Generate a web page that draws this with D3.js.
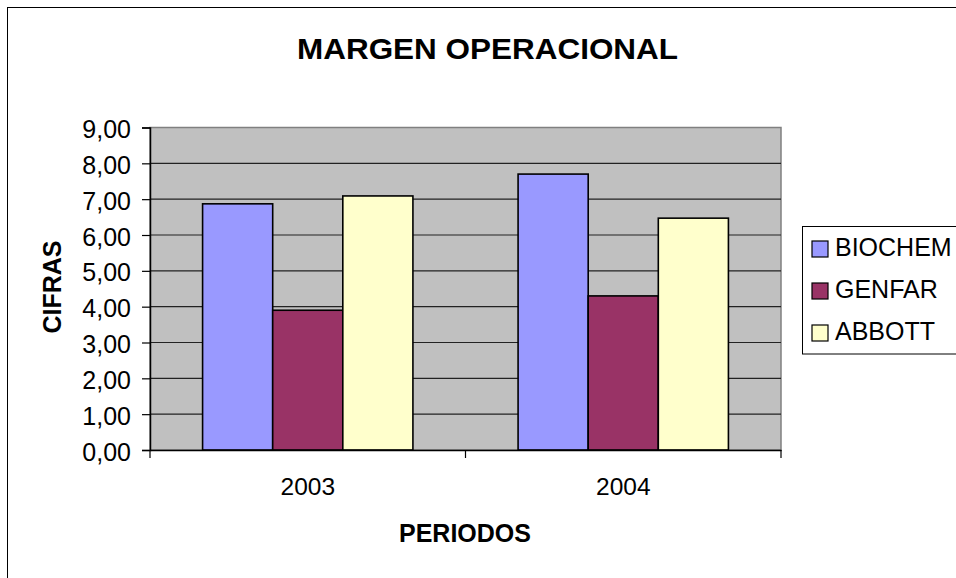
<!DOCTYPE html>
<html>
<head>
<meta charset="utf-8">
<script src="https://cdn.jsdelivr.net/npm/d3@7"></script>
<style>
  body { margin: 0; background: #fff; }
  svg { display: block; font-family: Arial, "Liberation Sans", sans-serif; }
</style>
</head>
<body>
<svg class="graphic" width="956" height="578"></svg>
<script>
// chart data
const periods = ["2003", "2004"];
const seriesNames = ["BIOCHEM", "GENFAR", "ABBOTT"];
const biochem = [6.87, 7.70];
const genfar = [3.90, 4.30];
const abbott = [7.09, 6.47];
const yTicks = [0, 1, 2, 3, 4, 5, 6, 7, 8, 9];

const colors = ["#9999FF", "#993366", "#FFFFCC"];
const seriesValues = [biochem, genfar, abbott];

const PLOT = { left: 150, right: 781, top: 127.5, bottom: 450 };

const $svg = d3.select('.graphic');

// outer chart frame (only left/top visible in the picture)
$svg.append('rect')
    .attr('x', 7.5).attr('y', 7.5)
    .attr('width', 1000).attr('height', 1000)
    .attr('fill', 'none').attr('stroke', '#000').attr('stroke-width', 1);

const x0 = d3.scaleBand()
    .domain(periods)
    .range([PLOT.left, PLOT.right])
    .padding(0);

const x1 = d3.scaleBand()
    .domain(seriesNames)
    .range([0, x0.bandwidth()])
    .paddingInner(0)
    .paddingOuter(0.75);

const y = d3.scaleLinear()
    .domain([0, 9])
    .range([PLOT.bottom, PLOT.top]);

// plot background
$svg.append('rect')
    .attr('x', PLOT.left).attr('y', PLOT.top)
    .attr('width', PLOT.right - PLOT.left)
    .attr('height', PLOT.bottom - PLOT.top)
    .attr('fill', '#C0C0C0')
    .attr('stroke', '#808080').attr('stroke-width', 1.5);

// gridlines
$svg.append('g')
    .selectAll('line')
    .data(yTicks.filter(d => d > 0 && d < 9))
    .join('line')
    .attr('x1', PLOT.left).attr('x2', PLOT.right)
    .attr('y1', d => y(d)).attr('y2', d => y(d))
    .attr('stroke', '#222').attr('stroke-width', 1.2);

// bars
const rows = periods.map((p, i) => ({
    period: p,
    values: seriesNames.map((s, j) => ({ name: s, value: seriesValues[j][i], color: colors[j] }))
}));

$svg.append('g')
    .selectAll('g')
    .data(rows)
    .join('g')
    .attr('transform', d => `translate(${x0(d.period)},0)`)
    .selectAll('rect')
    .data(d => d.values)
    .join('rect')
    .attr('x', d => x1(d.name))
    .attr('y', d => y(d.value))
    .attr('width', x1.bandwidth())
    .attr('height', d => y(0) - y(d.value))
    .attr('fill', d => d.color)
    .attr('stroke', '#000')
    .attr('stroke-width', 1.6);

// y axis
$svg.append('g')
    .attr('transform', `translate(${PLOT.left},0)`)
    .call(d3.axisLeft(y)
        .tickValues(yTicks)
        .tickSize(8)
        .tickPadding(11)
        .tickFormat(d => d3.format(".2f")(d).replace('.', ',')))
    .call(g => g.select('.domain').attr('stroke', '#000').attr('stroke-width', 1.5))
    .call(g => g.selectAll('.tick line').attr('stroke', '#000').attr('stroke-width', 1.2))
    .call(g => g.selectAll('.tick text')
        .attr('font-size', 25)
        .attr('font-family', 'Arial, "Liberation Sans", sans-serif')
        .attr('fill', '#000')
        .attr('dy', '0.4em'));

// x axis
$svg.append('g')
    .attr('transform', `translate(0,${PLOT.bottom})`)
    .call(d3.axisBottom(x0).tickSize(0).tickPadding(28))
    .call(g => g.select('.domain').attr('stroke', '#000').attr('stroke-width', 1.5))
    .call(g => g.selectAll('.tick text')
        .attr('font-size', 24.5)
        .attr('font-family', 'Arial, "Liberation Sans", sans-serif')
        .attr('fill', '#000'));

// category boundary ticks
const bounds = periods.map(p => x0(p)).concat([x0.range()[1]]);
$svg.append('g')
    .selectAll('line')
    .data(bounds)
    .join('line')
    .attr('x1', d => d).attr('x2', d => d)
    .attr('y1', PLOT.bottom).attr('y2', PLOT.bottom + 8)
    .attr('stroke', '#000').attr('stroke-width', 1.2);

// titles
$svg.append('text')
    .attr('x', 487.5).attr('y', 59)
    .attr('text-anchor', 'middle')
    .attr('font-size', 30).attr('font-weight', 'bold')
    .attr('textLength', 381).attr('lengthAdjust', 'spacingAndGlyphs')
    .text('MARGEN OPERACIONAL');

$svg.append('text')
    .attr('x', 465).attr('y', 542)
    .attr('text-anchor', 'middle')
    .attr('font-size', 25).attr('font-weight', 'bold')
    .text('PERIODOS');

$svg.append('text')
    .attr('transform', 'translate(61,287) rotate(-90)')
    .attr('text-anchor', 'middle')
    .attr('font-size', 25).attr('font-weight', 'bold')
    .text('CIFRAS');

// legend
const legend = $svg.append('g');
legend.append('rect')
    .attr('x', 802.5).attr('y', 226.5)
    .attr('width', 200).attr('height', 127.5)
    .attr('fill', '#fff').attr('stroke', '#000').attr('stroke-width', 1);

const items = legend.selectAll('g.item')
    .data(seriesNames)
    .join('g')
    .attr('class', 'item')
    .attr('transform', (d, i) => `translate(0,${256 + i * 42})`);

items.append('rect')
    .attr('x', 812).attr('y', -15)
    .attr('width', 16).attr('height', 16)
    .attr('fill', (d, i) => colors[i])
    .attr('stroke', '#000').attr('stroke-width', 1.2);

items.append('text')
    .attr('x', 835).attr('y', 0)
    .attr('font-size', 25)
    .text(d => d);
</script>
</body>
</html>
